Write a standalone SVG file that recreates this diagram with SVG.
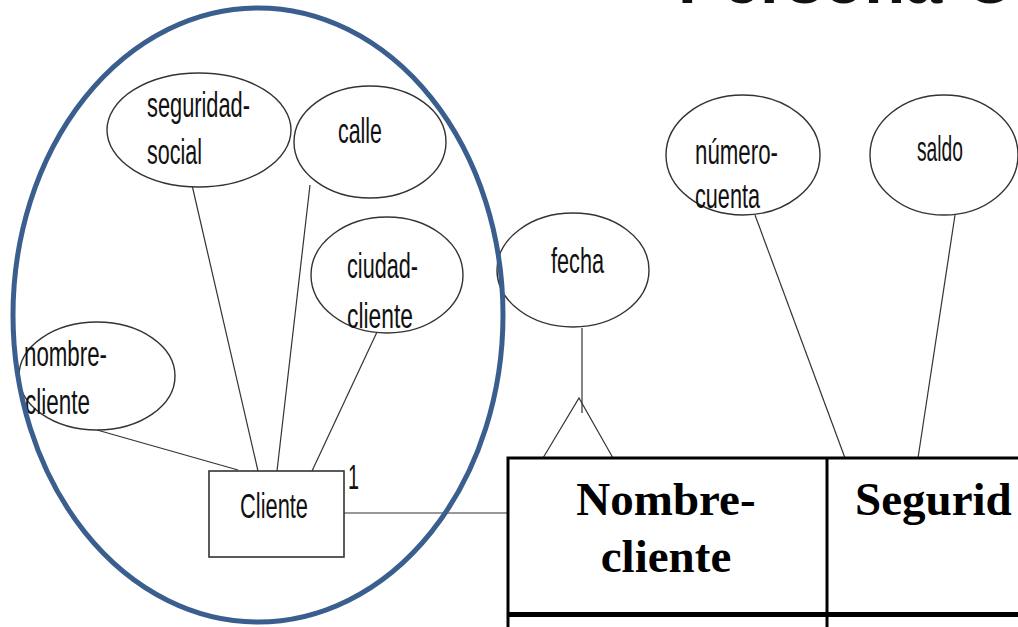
<svg xmlns="http://www.w3.org/2000/svg" width="1018" height="627" viewBox="0 0 1018 627">
<style>
.attr{fill:#fff;stroke:#333;stroke-width:1.4}
.lbl{font-family:"Liberation Sans",Arial,sans-serif;font-size:35px;fill:#111}
.conn line,.conn polyline{stroke:#333;stroke-width:1.2;fill:none}
.hdr{font-family:"Liberation Serif","Times New Roman",serif;font-weight:bold;font-size:47px;fill:#000}
</style>
<rect width="1018" height="627" fill="#fff"/>
<text x="678" y="3" font-family="Liberation Sans,Arial,sans-serif" font-weight="bold" font-size="70" textLength="335" lengthAdjust="spacingAndGlyphs" fill="#111">Persona-C</text>
<g class="conn" id="connectors">
<line x1="97" y1="430" x2="238" y2="470"/>
<line x1="192" y1="185" x2="258" y2="471"/>
<line x1="310" y1="185" x2="277" y2="471"/>
<line x1="377" y1="332" x2="312" y2="471"/>
<line x1="344" y1="513" x2="508" y2="513"/>
<line x1="582" y1="328" x2="582" y2="413"/>
<polyline points="543,458 579,398 613,458"/>
<line x1="755" y1="215" x2="845" y2="458"/>
<line x1="955" y1="215" x2="918" y2="458"/>
</g>
<g id="seguridad-social"><ellipse class="attr" cx="199" cy="130" rx="92" ry="57"/>
<text class="lbl" x="147" y="117" textLength="103" lengthAdjust="spacingAndGlyphs">seguridad-</text>
<text class="lbl" x="147" y="164" textLength="55" lengthAdjust="spacingAndGlyphs">social</text></g>
<g id="calle"><ellipse class="attr" cx="370" cy="142" rx="76" ry="56"/>
<text class="lbl" x="338" y="143" textLength="44" lengthAdjust="spacingAndGlyphs">calle</text></g>
<g id="ciudad-cliente"><ellipse class="attr" cx="387" cy="275" rx="76" ry="58"/>
<text class="lbl" x="347" y="278" textLength="71" lengthAdjust="spacingAndGlyphs">ciudad-</text>
<text class="lbl" x="347" y="328" textLength="66" lengthAdjust="spacingAndGlyphs">cliente</text></g>
<g id="nombre-cliente"><ellipse class="attr" cx="97" cy="376" rx="78" ry="54"/>
<text class="lbl" x="24" y="366" textLength="83" lengthAdjust="spacingAndGlyphs">nombre-</text>
<text class="lbl" x="25" y="414" textLength="65" lengthAdjust="spacingAndGlyphs">cliente</text></g>
<g id="fecha"><ellipse class="attr" cx="573" cy="270" rx="76" ry="57"/>
<text class="lbl" x="551" y="273" textLength="53" lengthAdjust="spacingAndGlyphs">fecha</text></g>
<g id="numero-cuenta"><ellipse class="attr" cx="743" cy="155" rx="77" ry="60"/>
<text class="lbl" x="695" y="164" textLength="83" lengthAdjust="spacingAndGlyphs">número-</text>
<text class="lbl" x="695" y="208" textLength="65" lengthAdjust="spacingAndGlyphs">cuenta</text></g>
<g id="saldo"><ellipse class="attr" cx="944" cy="155" rx="74" ry="60"/>
<text class="lbl" x="917" y="161" textLength="46" lengthAdjust="spacingAndGlyphs">saldo</text></g>
<g id="cliente"><rect x="209" y="471" width="135" height="86" fill="#fff" stroke="#333" stroke-width="1.6"/>
<text class="lbl" x="240" y="518" font-size="31" textLength="68" lengthAdjust="spacingAndGlyphs">Cliente</text>
<text class="lbl" x="348" y="489" font-size="30" textLength="11" lengthAdjust="spacingAndGlyphs">1</text></g>
<g id="table">
<path d="M1020,458 H508 V630 M827,458 V630" fill="none" stroke="#000" stroke-width="3"/>
<line x1="508" y1="614.5" x2="1020" y2="614.5" stroke="#000" stroke-width="5"/>
<text class="hdr" x="666" y="515" text-anchor="middle">Nombre-</text>
<text class="hdr" x="666" y="572" text-anchor="middle">cliente</text>
<text class="hdr" x="855" y="515">Segurid</text>
</g>
<ellipse id="grupo" cx="258" cy="315" rx="245" ry="307" fill="none" stroke="#3A5E8E" stroke-width="5"/>
</svg>
